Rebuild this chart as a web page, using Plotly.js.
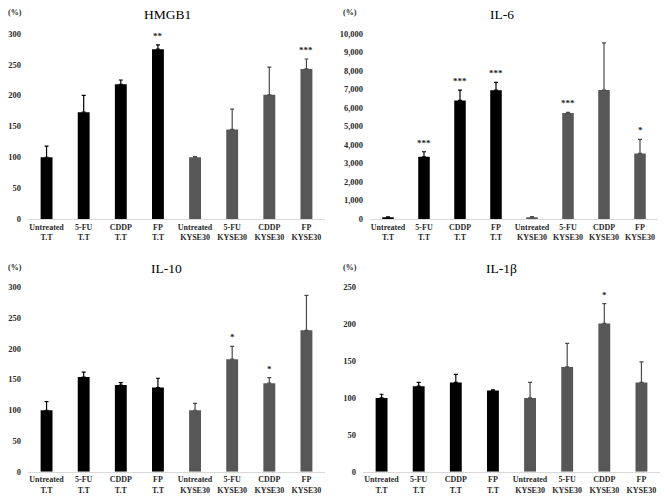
<!DOCTYPE html>
<html>
<head>
<meta charset="utf-8">
<script src="https://cdn.plot.ly/plotly-3.0.1.min.js"></script>
<style>html,body{margin:0;padding:0;background:#fff;}#chart{width:669px;height:502px;}</style>
</head>
<body>
<div id="chart"></div>
<script>
const categories = ["Untreated<br>T.T","5-FU<br>T.T","CDDP<br>T.T","FP<br>T.T","Untreated<br>KYSE30","5-FU<br>KYSE30","CDDP<br>KYSE30","FP<br>KYSE30"];
const panelTitles = ["HMGB1","IL-6","IL-10","IL-1β"];

const hmgb1Mean = [100,173,218,275,100,145,201,243];
const hmgb1Sd   = [18,27,7,7,1,33,45,16];
const hmgb1Sig  = ["","","","**","","","","***"];

const il6Mean = [100,3360,6400,6950,100,5720,6960,3540];
const il6Sd   = [20,270,560,420,30,30,2550,760];
const il6Sig  = ["","***","***","***","","***","","*"];

const il10Mean = [100,154,141,137,100,183,144,230];
const il10Sd   = [14,8,4,15,11,21,9,57];
const il10Sig  = ["","","","","","*","*",""];

const il1bMean = [100,116,121,110,100,142,201,121];
const il1bSd   = [5,5,11,1,21,32,27,28];
const il1bSig  = ["","","","","","","*",""];

const yTickVals = [
  [0,50,100,150,200,250,300],
  [0,1000,2000,3000,4000,5000,6000,7000,8000,9000,10000],
  [0,50,100,150,200,250,300],
  [0,50,100,150,200,250]
];
const yTickText = [
  ["0","50","100","150","200","250","300"],
  ["0","1,000","2,000","3,000","4,000","5,000","6,000","7,000","8,000","9,000","10,000"],
  ["0","50","100","150","200","250","300"],
  ["0","50","100","150","200","250"]
];

const W = 669, H = 502;
const panels = [
  {mean:hmgb1Mean, sd:hmgb1Sd, sig:hmgb1Sig, x0:28,  x1:325, yb:219,   yt:33.7,  ymax:300,   title:[167,15],  pct:[15,13]},
  {mean:il6Mean,   sd:il6Sd,   sig:il6Sig,   x0:370, x1:658, yb:219,   yt:33.7,  ymax:10000, title:[502,15],  pct:[350,13]},
  {mean:il10Mean,  sd:il10Sd,  sig:il10Sig,  x0:28,  x1:325, yb:471.7, yt:287.3, ymax:300,   title:[166,268], pct:[15,267]},
  {mean:il1bMean,  sd:il1bSd,  sig:il1bSig,  x0:363, x1:660, yb:471.7, yt:287.3, ymax:250,   title:[501,268], pct:[350,267]}
];

const serif = "Liberation Serif, Times New Roman, serif";
const traces = [];
const layout = {
  width: W, height: H,
  margin: {l:0, r:0, t:0, b:0},
  paper_bgcolor: "#fff", plot_bgcolor: "#fff",
  showlegend: false,
  barmode: "overlay",
  annotations: []
};

panels.forEach((p, i) => {
  const n = i + 1;
  const xa = n === 1 ? "x" : "x" + n;
  const ya = n === 1 ? "y" : "y" + n;
  const groups = [
    {idx:[0,1,2,3], color:"#000000", ecolor:"#000000"},
    {idx:[4,5,6,7], color:"#575757", ecolor:"#4a4a4a"}
  ];
  groups.forEach(g => {
    traces.push({
      type: "bar",
      x: g.idx.map(k => categories[k]),
      y: g.idx.map(k => p.mean[k]),
      width: 0.32,
      marker: {color: g.color, line: {width: 0}},
      error_y: {type: "data", symmetric: false, array: g.idx.map(k => p.sd[k]), arrayminus: g.idx.map(() => 0), color: g.ecolor, thickness: 1.2, width: 2},
      xaxis: xa, yaxis: ya,
      hoverinfo: "none",
      cliponaxis: false
    });
  });
  layout["xaxis" + (n === 1 ? "" : n)] = {
    domain: [p.x0 / W, p.x1 / W],
    anchor: ya,
    type: "category",
    categoryorder: "array",
    categoryarray: categories,
    range: [-0.5, 7.5],
    showline: true, linecolor: "#d9d9d9", linewidth: 1,
    showgrid: false, zeroline: false, ticks: "",
    tickfont: {family: serif, size: 8, color: "#2a2a2a", weight: "bold"},
    tickangle: 0,
    fixedrange: true
  };
  layout["yaxis" + (n === 1 ? "" : n)] = {
    domain: [(H - p.yb) / H, (H - p.yt) / H],
    anchor: xa,
    range: [0, p.ymax],
    tickmode: "array",
    tickvals: yTickVals[i],
    ticktext: yTickText[i],
    showline: false, showgrid: false, zeroline: false, ticks: "",
    ticklabelstandoff: 6,
    tickfont: {family: serif, size: 8.5, color: "#2a2a2a", weight: "bold"},
    fixedrange: true
  };
  layout.annotations.push({
    xref: "paper", yref: "paper", x: p.title[0] / W, y: (H - p.title[1]) / H,
    xanchor: "center", yanchor: "middle", showarrow: false,
    text: panelTitles[i], font: {family: serif, size: 13.5, color: "#000"}
  });
  layout.annotations.push({
    xref: "paper", yref: "paper", x: p.pct[0] / W, y: (H - p.pct[1]) / H,
    xanchor: "center", yanchor: "middle", showarrow: false,
    text: "(%)", font: {family: serif, size: 8, color: "#2a2a2a", weight: "bold"}
  });
  p.sig.forEach((s, k) => {
    if (!s) return;
    layout.annotations.push({
      xref: xa, yref: ya, x: categories[k], y: p.mean[k] + p.sd[k],
      xanchor: "center", yanchor: "bottom", showarrow: false, yshift: 2,
      text: "<b>" + s + "</b>", font: {family: serif, size: 9, color: "#222"}
    });
  });
});

Plotly.newPlot("chart", traces, layout, {staticPlot: true, displayModeBar: false});
</script>
</body>
</html>
